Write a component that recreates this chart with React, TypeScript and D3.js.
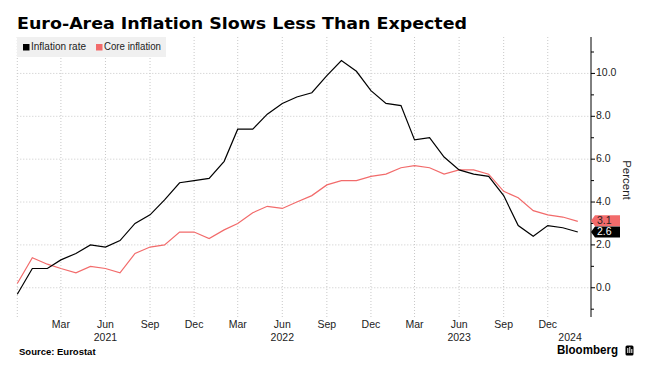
import React from "react";
import * as d3 from "d3";

const months: string[] = [
  "2020-12","2021-01","2021-02","2021-03","2021-04","2021-05","2021-06","2021-07","2021-08","2021-09","2021-10","2021-11","2021-12",
  "2022-01","2022-02","2022-03","2022-04","2022-05","2022-06","2022-07","2022-08","2022-09","2022-10","2022-11","2022-12",
  "2023-01","2023-02","2023-03","2023-04","2023-05","2023-06","2023-07","2023-08","2023-09","2023-10","2023-11","2023-12",
  "2024-01","2024-02"
];
const inflationRate: number[] = [
  -0.3, 0.9, 0.9, 1.3, 1.6, 2.0, 1.9, 2.2, 3.0, 3.4, 4.1, 4.9, 5.0,
  5.1, 5.9, 7.4, 7.4, 8.1, 8.6, 8.9, 9.1, 9.9, 10.6, 10.1, 9.2,
  8.6, 8.5, 6.9, 7.0, 6.1, 5.5, 5.3, 5.2, 4.3, 2.9, 2.4, 2.9,
  2.8, 2.6
];
const coreInflation: number[] = [
  0.2, 1.4, 1.1, 0.9, 0.7, 1.0, 0.9, 0.7, 1.6, 1.9, 2.0, 2.6, 2.6,
  2.3, 2.7, 3.0, 3.5, 3.8, 3.7, 4.0, 4.3, 4.8, 5.0, 5.0, 5.2,
  5.3, 5.6, 5.7, 5.6, 5.3, 5.5, 5.5, 5.3, 4.5, 4.2, 3.6, 3.4,
  3.3, 3.1
];
const monthTicks: string[] = [
  "2021-03","2021-06","2021-09","2021-12","2022-03","2022-06","2022-09","2022-12",
  "2023-03","2023-06","2023-09","2023-12"
];
const monthTickLabels: string[] = ["Mar","Jun","Sep","Dec","Mar","Jun","Sep","Dec","Mar","Jun","Sep","Dec"];
const gridMonths: string[] = ["2020-12", ...monthTicks];
const yearLabels: string[] = ["2021", "2022", "2023", "2024"];
const yearLabelDates: string[] = ["2021-06-01", "2022-06-01", "2023-06-01", "2024-01-16"];
const yMajorTicks: number[] = [0, 2, 4, 6, 8, 10];
const yMinorTicks: number[] = [-1, 1, 3, 5, 7, 9, 11];

const RED = "#f26b6b";
const FONT = "'Liberation Sans', Arial, sans-serif";

const parse = (s: string) => new Date(s.length === 7 ? s + "-01T00:00:00" : s + "T00:00:00");

export default function App() {
  const W = 663, H = 379;
  const x = d3.scaleTime()
    .domain([parse("2020-12"), parse("2024-02")])
    .range([17.3, 577.8]);
  const y = d3.scaleLinear().domain([-1.35, 11.7]).range([316.7, 37]);
  const axisX = 591;

  const line = d3.line<number>()
    .x((_, i) => x(parse(months[i])))
    .y((d) => y(d));

  const lastBlack = inflationRate[inflationRate.length - 1];
  const lastRed = coreInflation[coreInflation.length - 1];
  const tagH = 11;
  const blackCy = y(lastBlack);
  const redCy = Math.min(y(lastRed), blackCy - tagH - 0.3);
  const tagPath = (cy: number) =>
    `M${axisX},${cy} L${axisX + 4},${cy - tagH / 2} L${axisX + 29},${cy - tagH / 2} L${axisX + 29},${cy + tagH / 2} L${axisX + 4},${cy + tagH / 2} Z`;

  return (
    <svg width={W} height={H} style={{ position: "absolute", left: 0, top: 0, background: "#fff" }}>
      <rect x={0} y={0} width={W} height={H} fill="#fff" />
      <text x={17} y={29} fontFamily="'DejaVu Sans', sans-serif" fontWeight="bold" fontSize={16}
        textLength={450} lengthAdjust="spacingAndGlyphs" fill="#000">
        Euro-Area Inflation Slows Less Than Expected
      </text>

      {/* grid */}
      {yMajorTicks.map((v) => (
        <line key={"h" + v} x1={17.3} x2={axisX} y1={y(v)} y2={y(v)}
          stroke="#c8c8c8" strokeWidth={1} strokeDasharray="1,2" />
      ))}
      {gridMonths.map((m) => (
        <line key={"v" + m} x1={x(parse(m))} x2={x(parse(m))} y1={37} y2={317}
          stroke="#c8c8c8" strokeWidth={1} strokeDasharray="1,2" />
      ))}

      {/* legend */}
      <rect x={17} y={37} width={149} height={20} fill="#f0f0f0" />
      <rect x={23} y={44} width={6.5} height={6.5} fill="#000" />
      <text x={31} y={47.5} dominantBaseline="middle" fontFamily={FONT} fontSize={10} fill="#222"
        textLength={55} lengthAdjust="spacingAndGlyphs">Inflation rate</text>
      <rect x={96} y={44} width={6.5} height={6.5} fill={RED} />
      <text x={104} y={47.5} dominantBaseline="middle" fontFamily={FONT} fontSize={10} fill="#222"
        textLength={57} lengthAdjust="spacingAndGlyphs">Core inflation</text>

      {/* lines */}
      <path d={line(coreInflation) || ""} fill="none" stroke={RED} strokeWidth={1.2} />
      <path d={line(inflationRate) || ""} fill="none" stroke="#000" strokeWidth={1.2} />

      {/* y axis */}
      <line x1={axisX} x2={axisX} y1={37} y2={317} stroke="#000" strokeWidth={1} />
      {yMinorTicks.map((v) => (
        <line key={"mi" + v} x1={axisX} x2={axisX + 3} y1={y(v)} y2={y(v)} stroke="#000" strokeWidth={1} />
      ))}
      {yMajorTicks.map((v) => (
        <g key={"ma" + v}>
          <line x1={axisX} x2={axisX + 4} y1={y(v)} y2={y(v)} stroke="#000" strokeWidth={1} />
          <text x={axisX + 5} y={y(v)} dominantBaseline="middle" fontFamily={FONT} fontSize={10.5} fill="#222">
            {d3.format(".1f")(v)}
          </text>
        </g>
      ))}
      <text transform={`translate(626,${180}) rotate(90)`} textAnchor="middle" dominantBaseline="middle"
        fontFamily={FONT} fontSize={11.5} fill="#222">Percent</text>

      {/* end tags */}
      <path d={tagPath(redCy)} fill={RED} />
      <text x={axisX + 6} y={redCy + 0.5} dominantBaseline="middle" fontFamily={FONT} fontSize={10.5} fill="#222">
        {d3.format(".1f")(lastRed)}
      </text>
      <path d={tagPath(blackCy)} fill="#000" />
      <text x={axisX + 6} y={blackCy + 0.5} dominantBaseline="middle" fontFamily={FONT} fontSize={10.5} fill="#fff">
        {d3.format(".1f")(lastBlack)}
      </text>

      {/* x labels */}
      {monthTicks.map((m, i) => (
        <text key={"xm" + m} x={x(parse(m))} y={325.5} textAnchor="middle" dominantBaseline="middle"
          fontFamily={FONT} fontSize={10.5} fill="#222">{monthTickLabels[i]}</text>
      ))}
      {yearLabels.map((yl, i) => (
        <text key={"xy" + yl} x={x(parse(yearLabelDates[i]))} y={338} textAnchor="middle" dominantBaseline="middle"
          fontFamily={FONT} fontSize={10.5} fill="#222">{yl}</text>
      ))}

      {/* footer */}
      <text x={19} y={352} dominantBaseline="middle" fontFamily={FONT} fontWeight="bold" fontSize={9.5} fill="#000">
        Source: Eurostat
      </text>
      <text x={557} y={351} dominantBaseline="middle" fontFamily={FONT} fontWeight="bold" fontSize={12} fill="#000"
        textLength={61} lengthAdjust="spacingAndGlyphs">Bloomberg</text>
      <rect x={625.5} y={345.5} width={8} height={10} rx={1.5} fill="#000" />
      <rect x={627.3} y={348} width={1} height={5} fill="#fff" />
      <rect x={629.3} y={347} width={1} height={6} fill="#fff" />
      <rect x={631.3} y={349} width={1} height={4} fill="#fff" />
    </svg>
  );
}
